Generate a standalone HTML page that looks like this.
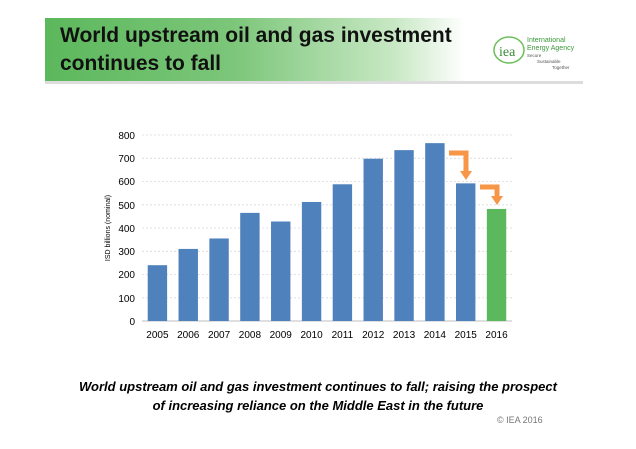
<!DOCTYPE html>
<html><head><style>
body{margin:0;width:636px;height:449px;background:#fff;font-family:"Liberation Sans",sans-serif;position:relative;overflow:hidden}
.band{position:absolute;left:45px;top:18px;width:538px;height:63px;background:linear-gradient(90deg,#5cb85c 0%,#7cc67a 35%,#c8e8c4 65%,#fff 78%);border-bottom:3px solid #ddd}
.title{position:absolute;left:60px;top:22px;font-size:21px;font-weight:bold;color:#111;line-height:28px}
.cap{position:absolute;left:0;width:636px;text-align:center;top:377px;font-size:13px;font-weight:bold;font-style:italic;line-height:19px;color:#000}
.copy{position:absolute;left:497px;top:415px;font-size:9px;color:#777}
</style></head><body>
<div class="band"></div>
<div class="title">World upstream oil and gas investment<br>continues to fall</div>
<svg style="position:absolute;left:0;top:0" width="636" height="449">
<ellipse cx="509" cy="50" rx="15" ry="13" fill="none" stroke="#6cbf5a" stroke-width="1.5"/>
<text x="499" y="56" font-family="Liberation Serif" font-size="14" fill="#3a8a3a">iea</text>
<text x="527" y="42" font-size="7" fill="#3a9a3a">International</text>
<text x="527" y="50" font-size="7" fill="#3a9a3a">Energy Agency</text>
<text x="527" y="57" font-size="4.5" fill="#555">Secure</text>
<text x="537" y="63" font-size="4.5" fill="#555">Sustainable</text>
<text x="552" y="69" font-size="4.5" fill="#555">Together</text>
<g stroke="#d9d9d9" stroke-dasharray="2,2" stroke-width="0.8">
<line x1="142" x2="512" y1="135" y2="135"/><line x1="142" x2="512" y1="158.3" y2="158.3"/>
<line x1="142" x2="512" y1="181.5" y2="181.5"/><line x1="142" x2="512" y1="204.8" y2="204.8"/>
<line x1="142" x2="512" y1="228" y2="228"/><line x1="142" x2="512" y1="251.3" y2="251.3"/>
<line x1="142" x2="512" y1="274.5" y2="274.5"/><line x1="142" x2="512" y1="297.8" y2="297.8"/>
</g>
<line x1="142" x2="512" y1="321" y2="321" stroke="#bfbfbf"/>
<g font-size="10" fill="#000" text-anchor="end">
<text x="135" y="139">800</text><text x="135" y="162">700</text><text x="135" y="185">600</text>
<text x="135" y="209">500</text><text x="135" y="232">400</text><text x="135" y="255">300</text>
<text x="135" y="278">200</text><text x="135" y="302">100</text><text x="135" y="325">0</text>
</g>
<text transform="translate(110,228) rotate(-90)" font-size="7" text-anchor="middle">ISD billions (nominal)</text>
<g id="bars"></g>
<path d="M449 153 H466 V172" stroke="#f79646" stroke-width="5" fill="none"/>
<polygon points="460,171 472,171 466,180" fill="#f79646"/>
<path d="M480 187 H497 V197" stroke="#f79646" stroke-width="5" fill="none"/>
<polygon points="491,196 503,196 497,205" fill="#f79646"/>
</svg>
<div class="cap">World upstream oil and gas investment continues to fall; raising the prospect<br>of increasing reliance on the Middle East in the future</div>
<div class="copy">© IEA 2016</div>
<script>
var v=[240,310,355,465,428,512,588,698,735,765,592,482],g=document.getElementById('bars'),s='';
for(var i=0;i<12;i++){var cx=142+30.83*(i+0.5),h=v[i]*0.2325;
s+='<rect x="'+(cx-9.7)+'" y="'+(321-h)+'" width="19.4" height="'+h+'" fill="'+(i==11?'#5cb85c':'#4f81bd')+'"/>';
s+='<text x="'+cx+'" y="338" font-size="10" text-anchor="middle">'+(2005+i)+'</text>';}
g.innerHTML=s;
</script>
</body></html>
